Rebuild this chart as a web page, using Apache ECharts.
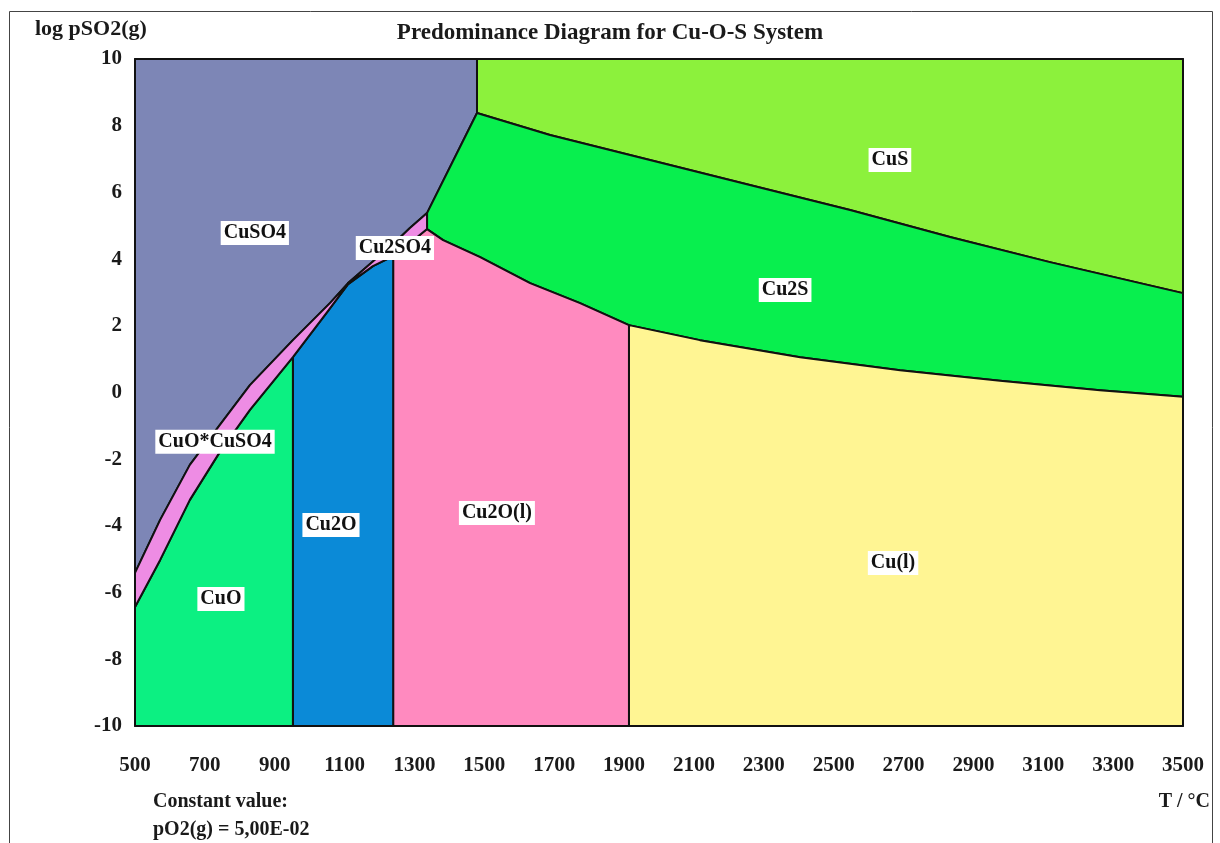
<!DOCTYPE html>
<html>
<head>
<meta charset="utf-8">
<script src="https://cdn.jsdelivr.net/npm/echarts@6/dist/echarts.min.js"></script>
<style>
  html, body { margin: 0; background: #fff; }
  #main { width: 1220px; height: 843px; }
</style>
</head>
<body>
<div id="main"></div>
<script>
// phase boundaries, points are [T (°C), log pSO2]
var cuso4Low1 = [[500, -5.41], [572, -3.82], [657, -2.17], [743, -0.97], [829, 0.22], [952, 1.57], [1058, 2.68], [1110, 3.28]];
var cuso4Low2 = [[1110, 3.28], [1181, 3.93], [1239, 4.45], [1287, 4.93], [1336, 5.38]];
var cuoTop = [[500, -6.43], [572, -5.02], [657, -3.22], [743, -1.78], [829, -0.52], [952, 1.06]];
var cu2oTop1 = [[952, 1.06], [1050, 2.41], [1110, 3.25]];
var cu2oTop2 = [[1110, 3.25], [1181, 3.79], [1239, 4.09]];
var cu2olTop = [[1239, 4.09], [1287, 4.48], [1336, 4.90]];
var cu2sLow = [[1336, 4.90], [1382, 4.57], [1488, 4.06], [1631, 3.28], [1774, 2.68], [1914, 2.02]];
var cu2sCu = [[1914, 2.02], [2117, 1.57], [2404, 1.06], [2690, 0.67], [2976, 0.35], [3262, 0.07], [3500, -0.13]];
var cu2sLeft = [[1336, 5.38], [1479, 8.38]];
var cusLow = [[1479, 8.38], [1688, 7.72], [1974, 6.97], [2260, 6.22], [2547, 5.47], [2833, 4.66], [3119, 3.91], [3500, 2.98]];

var tMin = 500, tMax = 3500, pMin = -10, pMax = 10;

var labelNames = ['CuSO4', 'Cu2SO4', 'CuS', 'Cu2S', 'CuO*CuSO4', 'Cu2O', 'Cu2O(l)', 'Cu(l)', 'CuO'];
var labelT = [843, 1244, 2661, 2361, 729, 1061, 1536, 2670, 746];
var labelP = [4.78, 4.33, 6.97, 3.07, -1.48, -3.97, -3.61, -5.11, -6.19];

function rev(a) { return a.slice().reverse(); }

var regions = [
  { name: 'CuSO4', color: '#7d86b6',
    pts: [[tMin, pMax], [1479, pMax]].concat(rev(cu2sLeft), rev(cuso4Low2), rev(cuso4Low1)) },
  { name: 'CuS', color: '#8cf13c',
    pts: [[1479, pMax], [tMax, pMax]].concat(rev(cusLow)) },
  { name: 'Cu2S', color: '#08ef4e',
    pts: cusLow.concat(rev(cu2sCu), rev(cu2sLow), cu2sLeft) },
  { name: 'Cu(l)', color: '#fff593',
    pts: [[1914, pMin], [tMax, pMin]].concat(rev(cu2sCu)) },
  { name: 'Cu2O(l)', color: '#ff8abf',
    pts: [[1239, pMin], [1914, pMin]].concat(rev(cu2sLow), rev(cu2olTop)) },
  { name: 'Cu2O', color: '#0b8ad7',
    pts: [[952, pMin], [1239, pMin]].concat(rev(cu2oTop2), rev(cu2oTop1)) },
  { name: 'CuO', color: '#0cf082',
    pts: [[tMin, pMin], [952, pMin]].concat(rev(cuoTop)) },
  { name: 'CuO*CuSO4', color: '#ee8ce4',
    pts: cuoTop.concat(cu2oTop1, rev(cuso4Low1)) },
  { name: 'Cu2SO4', color: '#ee8ce4',
    pts: cu2oTop2.concat(cu2olTop, rev(cuso4Low2)) }
];

var chart = echarts.init(document.getElementById('main'));

var serif = 'Liberation Serif';
var tickFont = { fontFamily: serif, fontWeight: 'bold', fontSize: 21, color: '#1a1a1a' };

var option = {
  backgroundColor: '#fff',
  animation: false,
  title: {
    text: 'Predominance Diagram for Cu-O-S System',
    left: 'center',
    top: 17,
    textStyle: { fontFamily: serif, fontWeight: 'bold', fontSize: 23, color: '#1a1a1a' }
  },
  grid: { left: 135, right: 37, top: 59, bottom: 117 },
  xAxis: [{
    type: 'value', min: tMin, max: tMax, interval: 200,
    axisLine: { lineStyle: { color: '#111', width: 2 } },
    axisTick: { inside: true, length: 6, lineStyle: { color: '#444' } },
    minorTick: { show: true, splitNumber: 2, length: 4, lineStyle: { color: '#666' } },
    splitLine: { show: false },
    axisLabel: Object.assign({ margin: 29, formatter: function (v) { return String(v); } }, tickFont)
  }, {
    type: 'value', min: tMin, max: tMax, interval: 200, position: 'top',
    axisLine: { lineStyle: { color: '#111', width: 2 } },
    axisTick: { inside: true, length: 6, lineStyle: { color: '#444' } },
    minorTick: { show: true, splitNumber: 2, length: 4, lineStyle: { color: '#666' } },
    splitLine: { show: false },
    axisLabel: { show: false }
  }],
  yAxis: [{
    type: 'value', min: pMin, max: pMax, interval: 2,
    axisLine: { show: true, lineStyle: { color: '#111', width: 2 } },
    axisTick: { show: true, inside: true, length: 6, lineStyle: { color: '#444' } },
    splitLine: { show: false },
    axisLabel: Object.assign({ margin: 13 }, tickFont)
  }, {
    type: 'value', min: pMin, max: pMax, interval: 2, position: 'right',
    axisLine: { show: true, lineStyle: { color: '#111', width: 2 } },
    axisTick: { show: true, inside: true, length: 6, lineStyle: { color: '#444' } },
    splitLine: { show: false },
    axisLabel: { show: false }
  }],
  series: [{
    type: 'custom',
    coordinateSystem: 'cartesian2d',
    data: regions.map(function (r, i) { return [i]; }),
    renderItem: function (params, api) {
      var r = regions[params.dataIndex];
      var points = r.pts.map(function (p) { return api.coord(p); });
      return {
        type: 'polygon',
        shape: { points: points },
        style: { fill: r.color, stroke: '#111', lineWidth: 2, lineJoin: 'round' }
      };
    },
    z: 2
  }, {
    type: 'scatter',
    symbolSize: 0,
    itemStyle: { opacity: 1 },
    data: labelNames.map(function (n, i) { return { name: n, value: [labelT[i], labelP[i]] }; }),
    label: {
      show: true,
      position: 'inside',
      formatter: '{b}',
      opacity: 1,
      fontFamily: serif,
      fontWeight: 'bold',
      fontSize: 20,
      color: '#111',
      backgroundColor: '#ffffff',
      padding: [3, 3, 1, 3]
    },
    emphasis: { disabled: true },
    z: 5
  }],
  graphic: [
    { type: 'rect', shape: { x: 9.5, y: 11.5, width: 1203, height: 860 },
      style: { fill: 'none', stroke: '#444', lineWidth: 1 } },
    { type: 'text', left: 35, top: 18,
      style: { text: 'log pSO2(g)', font: 'bold 22px "Liberation Serif"', fill: '#1a1a1a' } },
    { type: 'text', right: 10, top: 792,
      style: { text: 'T / °C', font: 'bold 20px "Liberation Serif"', fill: '#1a1a1a' } },
    { type: 'text', left: 153, top: 792,
      style: { text: 'Constant value:', font: 'bold 20px "Liberation Serif"', fill: '#1a1a1a' } },
    { type: 'text', left: 153, top: 820,
      style: { text: 'pO2(g) = 5,00E-02', font: 'bold 20px "Liberation Serif"', fill: '#1a1a1a' } }
  ]
};

chart.setOption(option);
</script>
</body>
</html>
